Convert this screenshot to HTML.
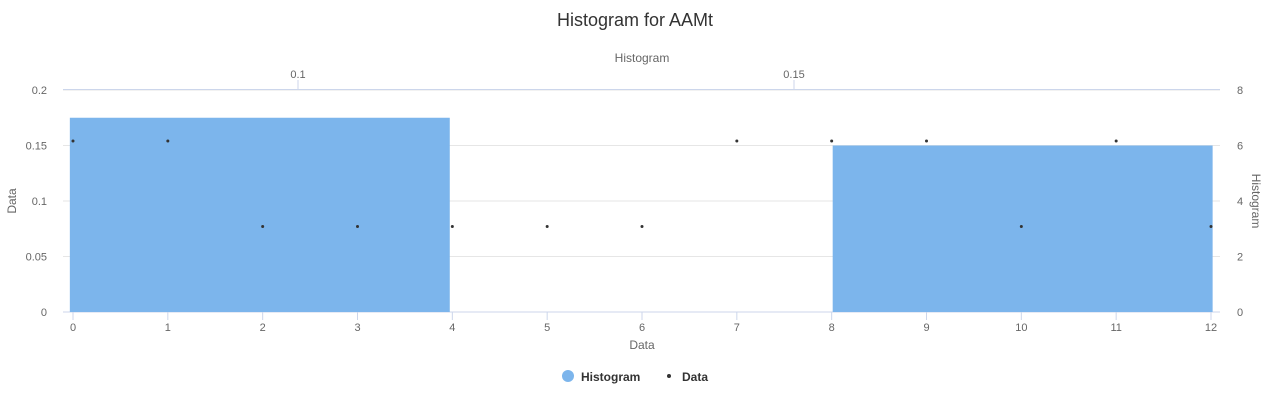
<!DOCTYPE html>
<html><head><meta charset="utf-8">
<style>
html,body{margin:0;padding:0;background:#fff;}
svg{display:block;font-family:"Liberation Sans",Arial,sans-serif;}
</style></head>
<body>
<svg id="chart" width="1270" height="402" viewBox="0 0 1270 402">
<rect x="0" y="0" width="1270" height="402" fill="#fff"/>
<text x="635" y="26" text-anchor="middle" font-size="18" fill="#333">Histogram for AAMt</text>
<g id="grid"></g>
<g id="bars"></g>
<g id="points"></g>
<g id="axes"></g>
<text x="642" y="349" text-anchor="middle" font-size="12" fill="#666">Data</text>
<text x="642" y="62" text-anchor="middle" font-size="12" fill="#666">Histogram</text>
<text transform="translate(16,201) rotate(-90)" text-anchor="middle" font-size="12" fill="#666">Data</text>
<text transform="translate(1252,201) rotate(90)" text-anchor="middle" font-size="12" fill="#666">Histogram</text>
<g>
<g>
<circle cx="568" cy="376" r="6" fill="#7cb5ec"/>
<text x="581" y="381" font-size="12" font-weight="bold" fill="#333">Histogram</text>
</g>
<g>
<circle cx="669" cy="376" r="2" fill="#333"/>
<text x="682" y="381" font-size="12" font-weight="bold" fill="#333">Data</text>
</g>
</g>
</svg>
<script>
const dataValues=[0.154,0.154,0.077,0.077,0.077,0.077,0.077,0.154,0.154,0.154,0.077,0.154,0.077];
const binStarts=[0.077,0.1153,0.1539];
const binEnds=[0.1153,0.1539,0.1922];
const binCounts=[7,0,6];
const yTicks=[0,0.05,0.1,0.15,0.2];
const yTickLabels=["0","0.05","0.1","0.15","0.2"];
const rTicks=[0,2,4,6,8];
const xTicks=[0,1,2,3,4,5,6,7,8,9,10,11,12];
const topTicks=[0.1,0.15];

const NS="http://www.w3.org/2000/svg";
const L=63,R=1220,T=90,B=312;
const xS=v=>73+v*(1211-73)/12;
const yS=v=>B-v*(B-T)/0.2;
const rS=v=>B-v*(B-T)/8;
const tS=v=>298+(v-0.1)*9920;
function mk(tag,attrs,parent,text){const e=document.createElementNS(NS,tag);for(const k in attrs)e.setAttribute(k,attrs[k]);if(text!==undefined)e.textContent=text;document.getElementById(parent).appendChild(e);return e;}

yTicks.forEach((v,i)=>{
 const g=mk('line',{x1:L,x2:R,y1:yS(v),y2:yS(v),stroke:v===0?'#ccd6eb':'#e6e6e6','stroke-width':1},'grid');
 
 
 const t=mk('text',{x:47,y:yS(v)+4,'text-anchor':'end','font-size':11,fill:'#666'},'axes',yTickLabels[i]);
 
 
});
rTicks.forEach(v=>{
 const t=mk('text',{x:1237,y:rS(v)+4,'text-anchor':'start','font-size':11,fill:'#666'},'axes',String(v));
 
 
});
mk('line',{x1:L,x2:R,y1:T-0.5,y2:T-0.5,stroke:'#ccd6eb'},'axes');
topTicks.forEach(v=>{
 const l=mk('line',{x1:tS(v),x2:tS(v),y1:T-10,y2:T,stroke:'#ccd6eb'},'axes');
 
 
 const t=mk('text',{x:tS(v),y:78,'text-anchor':'middle','font-size':11,fill:'#666'},'axes',String(v));
 
 
});
binCounts.forEach((c,i)=>{
 if(c<=0)return;
 const x0=tS(binStarts[i]),x1=tS(binEnds[i]);
 const r=mk('rect',{x:x0,y:rS(c),width:x1-x0,height:B-rS(c),fill:'#7cb5ec'},'bars');
 
 
});
xTicks.forEach(v=>{
 const l=mk('line',{x1:xS(v),x2:xS(v),y1:B,y2:B+8,stroke:'#ccd6eb'},'axes');
 
 
 const t=mk('text',{x:xS(v),y:331,'text-anchor':'middle','font-size':11,fill:'#666'},'axes',String(v));
 
 
});
dataValues.forEach((v,i)=>{
 const c=mk('circle',{cx:xS(i),cy:yS(v),r:1.5,fill:'#333'},'points');
 
 
});
</script>
</body></html>
